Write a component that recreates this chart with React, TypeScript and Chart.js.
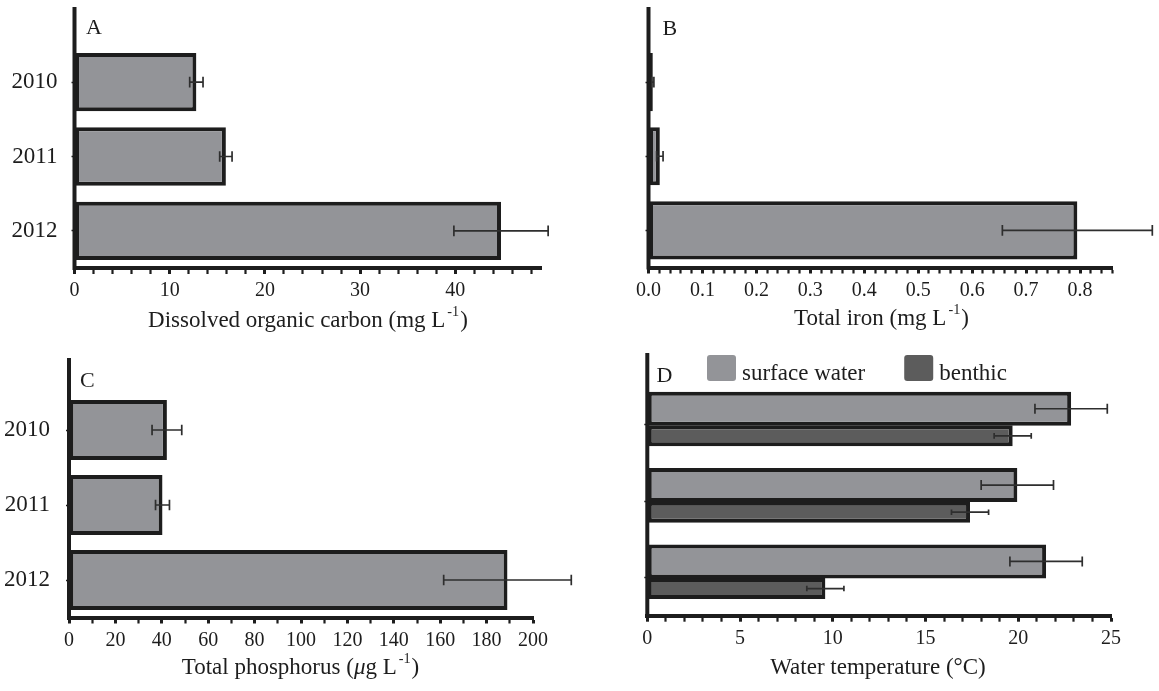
import React, { useEffect, useRef } from 'react';
import { Chart, registerables } from 'chart.js';

Chart.register(...registerables);

const FONT = "'Liberation Serif', 'Times New Roman', serif";
const INK = '#1d1d1d';
const ERR_INK = '#2e2e2e';
const SURFACE_FILL = '#939498';
const BENTHIC_FILL = '#5c5c5c';

// ---------- data ----------
const YEARS = ['2010', '2011', '2012'];
const DOC = [12.8, 15.9, 44.8];
const DOC_ERR = [0.7, 0.65, 4.95];
const IRON = [0.008, 0.021, 0.795];
const IRON_ERR = [0.002, 0.006, 0.139];
const PHOSPHORUS = [42.2, 40.3, 189];
const PHOSPHORUS_ERR = [6.4, 3.0, 27.5];
const SURFACE_TEMP = [22.85, 19.95, 21.5];
const SURFACE_TEMP_ERR = [1.95, 1.95, 1.95];
const BENTHIC_TEMP = [19.7, 17.4, 9.6];
const BENTHIC_TEMP_ERR = [1.0, 1.0, 1.0];
const SERIES_NAMES = ['surface water', 'benthic'];

// ---------- tick labels ----------
const DOC_TICKS = ['0', '10', '20', '30', '40'];
const IRON_TICKS = ['0.0', '0.1', '0.2', '0.3', '0.4', '0.5', '0.6', '0.7', '0.8'];
const TP_TICKS = ['0', '20', '40', '60', '80', '100', '120', '140', '160', '180', '200'];
const TEMP_TICKS = ['0', '5', '10', '15', '20', '25'];

const decorPlugin = {
  id: 'panelDecor',
  afterDatasetsDraw(chart: any) {
    const ctx = chart.ctx;
    const xs = chart.scales.x;
    chart.data.datasets.forEach((ds: any, di: number) => {
      if (!ds.errors) return;
      const meta = chart.getDatasetMeta(di);
      ctx.save();
      ctx.strokeStyle = ERR_INK;
      ctx.lineWidth = 1.7;
      meta.data.forEach((el: any, i: number) => {
        const v = ds.data[i];
        const e = ds.errors[i];
        const x1 = xs.getPixelForValue(v - e);
        const x2 = xs.getPixelForValue(v + e);
        const y = el.y;
        const c = ds.capHalf || 5;
        ctx.beginPath();
        ctx.moveTo(x1, y);
        ctx.lineTo(x2, y);
        ctx.moveTo(x1, y - c);
        ctx.lineTo(x1, y + c);
        ctx.moveTo(x2, y - c);
        ctx.lineTo(x2, y + c);
        ctx.stroke();
      });
      ctx.restore();
    });
  },
  afterDraw(chart: any, _args: any, opts: any) {
    const ctx = chart.ctx;
    const a = chart.chartArea;
    ctx.save();
    // vertical axis line, extended above the bars
    ctx.strokeStyle = INK;
    ctx.lineWidth = 4;
    ctx.beginPath();
    ctx.moveTo(a.left, opts.axisTop);
    ctx.lineTo(a.left, a.bottom + 2);
    ctx.stroke();
    // panel letter
    ctx.fillStyle = INK;
    ctx.font = `22px ${FONT}`;
    ctx.textBaseline = 'alphabetic';
    ctx.textAlign = 'left';
    ctx.fillText(opts.letter, opts.letterX, opts.letterY);
    // legend
    if (opts.legend) {
      const L = opts.legend;
      let x = L.x;
      ctx.font = `23px ${FONT}`;
      chart.data.datasets.forEach((ds: any) => {
        ctx.fillStyle = ds.backgroundColor;
        ctx.beginPath();
        if (ctx.roundRect) ctx.roundRect(x, L.y, L.boxW, L.boxH, 3);
        else ctx.rect(x, L.y, L.boxW, L.boxH);
        ctx.fill();
        ctx.fillStyle = INK;
        const tx = x + L.boxW + L.textGap;
        ctx.fillText(ds.label, tx, L.baseline);
        x = tx + ctx.measureText(ds.label).width + L.itemGap;
      });
    }
    ctx.restore();
  },
};

type Panel = {
  key: string;
  left: number;
  top: number;
  width: number;
  height: number;
  area: { left: number; right: number; top: number; bottom: number };
  axisTop: number;
  xMax: number;
  minorStep: number;
  majorEvery: number;
  tickLabels: string[];
  showYears: boolean;
  yLabelPad: number;
  datasets: any[];
  letter: { text: string; x: number; y: number };
  legend?: any;
};

const barStyle = {
  borderColor: INK,
  borderWidth: 4,
  borderSkipped: false,
};

const PANELS: Panel[] = [
  {
    key: 'A',
    left: 0,
    top: 0,
    width: 580,
    height: 345,
    area: { left: 74.5, right: 541, top: 45, bottom: 268 },
    axisTop: 7,
    xMax: 49,
    minorStep: 2,
    majorEvery: 5,
    tickLabels: DOC_TICKS,
    showYears: true,
    yLabelPad: 14,
    letter: { text: 'A', x: 86, y: 34 },
    datasets: [
      {
        label: 'Dissolved organic carbon',
        data: DOC,
        errors: DOC_ERR,
        backgroundColor: SURFACE_FILL,
        ...barStyle,
        barPercentage: 0.784,
        categoryPercentage: 1,
        capHalf: 5.3,
      },
    ],
  },
  {
    key: 'B',
    left: 580,
    top: 0,
    width: 579,
    height: 345,
    area: { left: 68.5, right: 532.4, top: 45, bottom: 267.5 },
    axisTop: 7,
    xMax: 0.86,
    minorStep: 0.02,
    majorEvery: 5,
    tickLabels: IRON_TICKS,
    showYears: false,
    yLabelPad: 14,
    letter: { text: 'B', x: 82.5, y: 35 },
    datasets: [
      {
        label: 'Total iron',
        data: IRON,
        errors: IRON_ERR,
        backgroundColor: SURFACE_FILL,
        ...barStyle,
        barPercentage: 0.784,
        categoryPercentage: 1,
        capHalf: 5.3,
      },
    ],
  },
  {
    key: 'C',
    left: 0,
    top: 345,
    width: 580,
    height: 346,
    area: { left: 69, right: 533, top: 47.5, bottom: 272.5 },
    axisTop: 13,
    xMax: 200,
    minorStep: 10,
    majorEvery: 2,
    tickLabels: TP_TICKS,
    showYears: true,
    yLabelPad: 16,
    letter: { text: 'C', x: 80, y: 41.5 },
    datasets: [
      {
        label: 'Total phosphorus',
        data: PHOSPHORUS,
        errors: PHOSPHORUS_ERR,
        backgroundColor: SURFACE_FILL,
        ...barStyle,
        barPercentage: 0.8,
        categoryPercentage: 1,
        capHalf: 5.3,
      },
    ],
  },
  {
    key: 'D',
    left: 580,
    top: 345,
    width: 579,
    height: 346,
    area: { left: 67.3, right: 531, top: 41.7, bottom: 270.7 },
    axisTop: 8,
    xMax: 25,
    minorStep: 1,
    majorEvery: 5,
    tickLabels: TEMP_TICKS,
    showYears: false,
    yLabelPad: 14,
    letter: { text: 'D', x: 76.5, y: 37 },
    legend: { x: 127, y: 10, boxW: 29, boxH: 26, textGap: 6, itemGap: 39, baseline: 35 },
    datasets: [
      {
        label: SERIES_NAMES[0],
        data: SURFACE_TEMP,
        errors: SURFACE_TEMP_ERR,
        backgroundColor: SURFACE_FILL,
        ...barStyle,
        barPercentage: 1.055,
        categoryPercentage: 0.844,
        capHalf: 5,
      },
      {
        label: SERIES_NAMES[1],
        data: BENTHIC_TEMP,
        errors: BENTHIC_TEMP_ERR,
        backgroundColor: BENTHIC_FILL,
        ...barStyle,
        barPercentage: 0.954,
        categoryPercentage: 0.5765,
        capHalf: 2.8,
      },
    ],
  },
];

function makeConfig(p: Panel): any {
  return {
    type: 'bar',
    data: { labels: YEARS, datasets: p.datasets },
    options: {
      indexAxis: 'y',
      responsive: false,
      maintainAspectRatio: false,
      animation: false,
      devicePixelRatio: 1,
      events: [],
      layout: {
        padding: { left: 0, top: p.area.top, right: p.width - p.area.right, bottom: 0 },
      },
      plugins: {
        legend: { display: false },
        tooltip: { enabled: false },
        panelDecor: {
          axisTop: p.axisTop,
          letter: p.letter.text,
          letterX: p.letter.x,
          letterY: p.letter.y,
          legend: p.legend,
        },
      },
      scales: {
        x: {
          type: 'linear',
          min: 0,
          max: p.xMax,
          afterBuildTicks: (s: any) => {
            const t: any[] = [];
            for (let i = 0; i * p.minorStep <= p.xMax + 1e-9; i++) {
              t.push({ value: +(i * p.minorStep).toFixed(6) });
            }
            s.ticks = t;
          },
          afterFit: (s: any) => {
            s.height = p.height - p.area.bottom;
          },
          ticks: {
            autoSkip: false,
            maxRotation: 0,
            minRotation: 0,
            padding: 5,
            color: INK,
            font: { family: FONT, size: 20 },
            callback: (_v: any, i: number) =>
              i % p.majorEvery === 0 ? p.tickLabels[i / p.majorEvery] ?? '' : '',
          },
          grid: {
            display: true,
            drawOnChartArea: false,
            drawTicks: true,
            tickLength: 6,
            tickWidth: (c: any) => (c.index % p.majorEvery === 0 ? 3 : 2.2),
            tickColor: INK,
          },
          border: { display: true, color: INK, width: 4 },
        },
        y: {
          type: 'category',
          offset: true,
          afterFit: (s: any) => {
            s.width = p.area.left;
          },
          ticks: {
            display: p.showYears,
            padding: p.yLabelPad,
            color: INK,
            font: { family: FONT, size: 23 },
          },
          grid: {
            display: true,
            offset: false,
            drawOnChartArea: false,
            drawTicks: true,
            tickLength: 3,
            tickWidth: 1.5,
            tickColor: INK,
          },
          border: { display: false },
        },
      },
    },
    plugins: [decorPlugin],
  };
}

function PanelChart({ p }: { p: Panel }) {
  const ref = useRef<HTMLCanvasElement>(null);
  useEffect(() => {
    const chart = new Chart(ref.current as HTMLCanvasElement, makeConfig(p));
    return () => chart.destroy();
  }, []);
  return (
    <canvas
      ref={ref}
      width={p.width}
      height={p.height}
      style={{ position: 'absolute', left: p.left, top: p.top, width: p.width, height: p.height, display: 'block' }}
    />
  );
}

const supStyle: React.CSSProperties = {
  fontSize: '0.62em',
  verticalAlign: 'baseline',
  position: 'relative',
  top: '-0.8em',
  marginLeft: 2,
  marginRight: 1,
};

function AxisTitle({ cx, top, children }: { cx: number; top: number; children: React.ReactNode }) {
  return (
    <div
      style={{
        position: 'absolute',
        left: cx - 300,
        top,
        width: 600,
        textAlign: 'center',
        fontFamily: FONT,
        fontSize: 23,
        lineHeight: '23px',
        color: INK,
        whiteSpace: 'nowrap',
      }}
    >
      {children}
    </div>
  );
}

export default function App() {
  return (
    <div
      style={{
        position: 'absolute',
        left: 0,
        top: 0,
        width: 1159,
        height: 691,
        background: '#ffffff',
        overflow: 'hidden',
      }}
    >
      {PANELS.map((p) => (
        <PanelChart key={p.key} p={p} />
      ))}
      <AxisTitle cx={308} top={308}>
        Dissolved organic carbon (mg L<span style={supStyle}>-1</span>)
      </AxisTitle>
      <AxisTitle cx={881.5} top={306}>
        Total iron (mg L<span style={supStyle}>-1</span>)
      </AxisTitle>
      <AxisTitle cx={300.5} top={655}>
        Total phosphorus (<i>μ</i>g L<span style={supStyle}>-1</span>)
      </AxisTitle>
      <AxisTitle cx={878} top={655}>
        Water temperature (°C)
      </AxisTitle>
    </div>
  );
}
